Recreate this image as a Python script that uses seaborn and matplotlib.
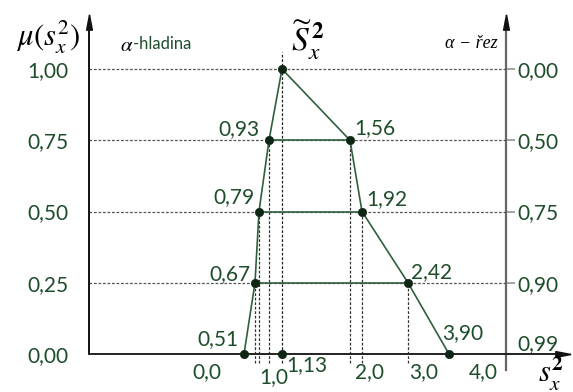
import numpy as np
import pandas as pd
import matplotlib
matplotlib.use("Agg")
import matplotlib.pyplot as plt
from matplotlib.path import Path
import seaborn as sns

# Fuzzy estimate of the variance: alpha-cut end points and membership levels
left_support = [0.51, 0.67, 0.79, 0.93]
peak = 1.13
right_support = [1.56, 1.92, 2.42, 3.90]
mu_levels = [0.00, 0.25, 0.50, 0.75]

mu_ticks = [1.00, 0.75, 0.50, 0.25, 0.00]
mu_tick_labels = ["1,00", "0,75", "0,50", "0,25", "0,00"]
alpha_cut_labels = ["0,00", "0,50", "0,75", "0,90", "0,99"]
x_ticks = [0, 1, 2, 3, 4]
x_tick_labels = ["0,0", "1,0", "2,0", "3,0", "4,0"]

# Schematic (non-linear) horizontal axis: value -> drawing position
warp_vals = [-2.0, 0.0, 0.51, 0.67, 0.79, 0.93, 1.13, 1.56, 1.92, 2.42, 3.90, 4.0, 6.0]
warp_pos = [62, 207, 244, 255, 259, 269, 282, 350, 362, 408, 449, 483, 620]

GREEN = "#1d4d2a"
LINE_GREEN = "#2f5f3c"
DOT = "#0f2614"
TICK_GREEN = "#6b8a70"
DASH = (0, (2.2, 1.4))

sns.set_theme(style="white")
plt.rcParams["font.family"] = ["Lato", "DejaVu Sans"]
plt.rcParams["mathtext.fontset"] = "stix"

W, H = 573, 392
fig = plt.figure(figsize=(W / 100, H / 100), dpi=100)


def fxy(px, py):
    return px / W, 1 - py / H


ax_left, ax_right, ax_top, ax_bottom = 89, 563, 22, 380
ax = fig.add_axes([ax_left / W, 1 - ax_bottom / H,
                   (ax_right - ax_left) / W, (ax_bottom - ax_top) / H])


def fwd(x):
    return np.interp(x, warp_vals, warp_pos)


def inv(p):
    return np.interp(p, warp_pos, warp_vals)


ax.set_xscale("function", functions=(fwd, inv))
ax.set_xlim(inv(ax_left), inv(ax_right))
px_per_unit = 285.0
y0_px = 354
ax.set_ylim(-(ax_bottom - y0_px) / px_per_unit, 1 + (69 - ax_top) / px_per_unit)
ytop = ax.get_ylim()[1]

s2 = left_support + [peak] + right_support
mu = mu_levels + [1.0] + mu_levels[::-1]
df = pd.DataFrame({"s2": s2, "mu": mu})

# right-hand alpha-cut axis
sec_loc = (506 - ax_left) / (ax_right - ax_left)
sec = ax.secondary_yaxis(sec_loc)
sec.set_yticks(mu_ticks)
sec.set_yticklabels(alpha_cut_labels)
sec.tick_params(axis="y", direction="out", length=6.5, width=1.2,
                color="#8a9a8c", labelcolor=GREEN, labelsize=15, pad=2)
for lab in sec.get_yticklabels():
    if lab.get_text() == "0,99":
        lab.set_va("bottom")
sec.spines["right"].set_color("#666666")
sec.spines["right"].set_linewidth(1.6)
sec.spines["right"].set_bounds(-0.055, ytop)
for s in ("left", "top", "bottom"):
    sec.spines[s].set_visible(False)

# horizontal dashed level lines between the two vertical axes
yax_tr = ax.get_yaxis_transform()
for lv in mu_ticks[:-1]:
    ax.plot([0, sec_loc], [lv, lv], transform=yax_tr, color="#555555",
            lw=0.9, ls=DASH, zorder=1)

# vertical dashed projections of the cut points onto the axis
for xv, yv in zip(left_support[1:] + right_support[:-1],
                  mu_levels[1:] + mu_levels[::-1][:-1]):
    ax.plot([xv, xv], [-0.03, yv], color="#333333", lw=0.9, ls=DASH, zorder=1)
ax.plot([peak, peak], [-0.03, 1.06], color="#222222", lw=0.9, ls=DASH, zorder=1)

# solid alpha-cut intervals: (0.67, 2.42), (0.79, 1.92), (0.93, 1.56)
for lo, hi, lv in zip(left_support[1:], right_support[:-1][::-1], mu_levels[1:]):
    ax.plot([lo, hi], [lv, lv], color=LINE_GREEN, lw=1.2, zorder=2)

# membership function
sns.lineplot(data=df, x="s2", y="mu", sort=False, color=LINE_GREEN, lw=1.2,
             ax=ax, zorder=3)
sns.scatterplot(data=df, x="s2", y="mu", color=DOT, s=36, edgecolor=DOT,
                ax=ax, zorder=4)
sns.scatterplot(x=[peak], y=[0.0], color=DOT, s=36, edgecolor=DOT, ax=ax,
                zorder=4)
ax.set_xlabel("")
ax.set_ylabel("")


def fmt(v):
    return f"{v:.2f}".replace(".", ",")


offsets = {0.51: (-26, 15), 0.67: (-25, 9), 0.79: (-25, 14), 0.93: (-30, 11),
           1.56: (25, 12), 1.92: (25, 12), 2.42: (24, 11), 3.90: (14, 21)}
for xv, yv in zip(s2, mu):
    if xv in offsets:
        ax.annotate(fmt(xv), (xv, yv), xytext=offsets[xv],
                    textcoords="offset pixels", ha="center", va="center",
                    color=GREEN, fontsize=15, zorder=5)
ax.annotate(fmt(peak), (peak, 0.0), xytext=(25, -11), textcoords="offset pixels",
            ha="center", va="center", color=GREEN, fontsize=15, zorder=5)

# axes, ticks
for s in ("top", "right"):
    ax.spines[s].set_visible(False)
ax.spines["bottom"].set_position(("data", 0))
ax.spines["bottom"].set_color("#222222")
ax.spines["bottom"].set_linewidth(1.4)
ax.spines["left"].set_color("#111111")
ax.spines["left"].set_linewidth(1.4)
ax.spines["left"].set_bounds(0, ytop)

ax.set_yticks(mu_ticks)
ax.set_yticklabels(mu_tick_labels)
ax.tick_params(axis="y", direction="out", length=6.5, width=1.2,
               color=TICK_GREEN, labelcolor=GREEN, labelsize=15, pad=8)
ax.set_xticks(x_ticks)
ax.set_xticklabels(x_tick_labels)
ax.xaxis.set_minor_locator(matplotlib.ticker.NullLocator())
ax.tick_params(axis="x", direction="inout", length=7, width=1.2,
               color=TICK_GREEN, labelcolor=GREEN, labelsize=15, pad=2)
ax.xaxis.get_major_ticks()[1].set_pad(6)

# arrow heads
up = Path([(0, 1), (-0.38, -1), (0.38, -1), (0, 1)])
right = Path([(1, 0), (-1, 0.38), (-1, -0.38), (1, 0)])
ax.plot([0], [1], marker=up, ms=11, color="#111111", transform=ax.transAxes,
        clip_on=False, zorder=6)
ax.plot([sec_loc], [1], marker=up, ms=11, color="#111111",
        transform=ax.transAxes, clip_on=False, zorder=6)
ax.plot([1], [0], marker=right, ms=11, color="#111111", transform=yax_tr,
        clip_on=False, zorder=6)

# annotations
fig.text(*fxy(48, 37), r"$\mu(s_x^2)$", fontsize=22, ha="center", va="center",
         color="black")
fig.text(*fxy(120, 45), r"$\alpha$", fontsize=15, ha="left", va="center",
         color="black")
fig.text(*fxy(133, 44), "-hladina", fontsize=12, ha="left", va="center",
         color=GREEN)
fig.text(*fxy(308, 40), r"$\widetilde{S}_x^{\,\mathbf{2}}$", fontsize=24,
         ha="center", va="center", color="black")
fig.text(*fxy(471, 43), "α − řez", fontsize=13, ha="center", va="center",
         color="black", family=["Liberation Serif"], style="italic")
fig.text(*fxy(551, 374), r"$\mathit{s}_x^{\mathbf{2}}$", fontsize=22,
         ha="center", va="center", color="black")

fig.savefig("out.png", dpi=100)
